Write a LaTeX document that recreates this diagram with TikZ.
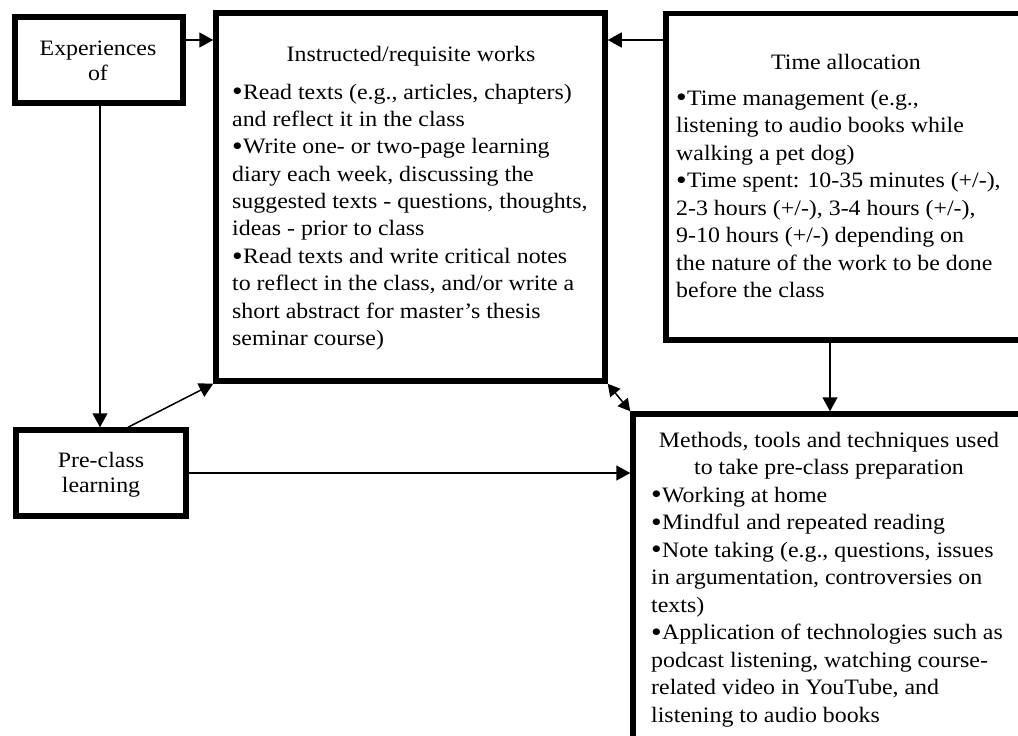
\documentclass[tikz,border=0pt]{standalone}
\usepackage{fontspec}
\setmainfont[FakeStretch=1.085]{Liberation Serif}
\usetikzlibrary{arrows.meta}
\newcommand\Llines[2]{\vtop{\baselineskip=#1\lineskiplimit=-30pt\lineskip=0pt\halign{##\hfil\cr#2\crcr}}}
\newcommand\Clines[2]{\vtop{\baselineskip=#1\lineskiplimit=-30pt\lineskip=0pt\halign{\hfil##\hfil\cr#2\crcr}}}
\newcommand\bul{\raisebox{-1.6pt}{\fontsize{28}{28}\selectfont•}\kern0.01em}
\begin{document}
\begin{tikzpicture}[x=1pt,y=-1pt,
  box/.style={draw, line width=5.5pt, inner sep=0pt},
  txt/.style={inner sep=0pt, font=\fontsize{22}{27.4}\selectfont},
  arr/.style={line width=1.5pt, -{Triangle[length=14pt,width=15pt]}},
  darr/.style={line width=1.5pt, {Triangle[length=12pt,width=13pt]}-{Triangle[length=12pt,width=13pt]}}]
\useasboundingbox (0,0) rectangle (1018,736);
\clip (0,0) rectangle (1018,736);
\fill[white] (0,0) rectangle (1018,736);
% boxes
\node[box, minimum width=168pt, minimum height=86pt] (exp) at (99,60) {};
\node[box, minimum width=389pt, minimum height=368pt] (instr) at (410.5,197) {};
\node[box, minimum width=374pt, minimum height=326.5pt] (time) at (853,176.75) {};
\node[box, minimum width=407pt, minimum height=346pt] (meth) at (836.5,587) {};
\node[box, minimum width=170pt, minimum height=86pt] (pre) at (101,473) {};
% texts
\node[txt, anchor=base] (expT) at (98,55) {\Clines{25pt}{Experiences\cr of}};
\node[txt, anchor=base] (preT) at (101,467) {\Clines{25pt}{Pre-class\cr learning}};
\node[txt, anchor=base] (instrH) at (411,61) {Instructed/requisite works};
\node[txt, anchor=base west] (instrB) at (232,99) {\Llines{27.4pt}{%
\bul Read texts (e.g., articles, chapters)\cr
and reflect it in the class\cr
\bul Write one- or two-page learning\cr
diary each week, discussing the\cr
suggested texts - questions, thoughts,\cr
ideas - prior to class\cr
\bul Read texts and write critical notes\cr
to reflect in the class, and/or write a\cr
short abstract for master’s thesis\cr
seminar course)}};
\node[txt, anchor=base] (timeH) at (846,69) {Time allocation};
\node[txt, anchor=base west] (timeB) at (676,105) {\Llines{27.5pt}{%
\bul Time management (e.g.,\cr
listening to audio books while\cr
walking a pet dog)\cr
\bul Time spent: 10-35 minutes (+/-),\cr
2-3 hours (+/-), 3-4 hours (+/-),\cr
9-10 hours (+/-) depending on\cr
the nature of the work to be done\cr
before the class}};
\node[txt, anchor=base] (methH) at (829,447) {\Clines{27.5pt}{%
Methods, tools and techniques used\cr
to take pre-class preparation}};
\node[txt, anchor=base west] (methB) at (651,502) {\Llines{27.5pt}{%
\bul Working at home\cr
\bul Mindful and repeated reading\cr
\bul Note taking (e.g., questions, issues\cr
in argumentation, controversies on\cr
texts)\cr
\bul Application of technologies such as\cr
podcast listening, watching course-\cr
related video in YouTube, and\cr
listening to audio books}};
% connectors
\draw[arr] (exp.east |- 0,40) -- (instr.west |- 0,40);
\draw[arr] (time.west |- 0,40) -- (instr.east |- 0,40);
\draw[arr] (exp.south -| 100,0) -- (pre.north -| 100,0);
\draw[arr] (pre.north -| 128,0) -- (instr.south west);
\draw[arr] (pre.east) -- (meth.west |- pre.east);
\draw[arr] (time.south -| 830,0) -- (meth.north -| 830,0);
\draw[darr] (instr.south east) -- (meth.north west);
\end{tikzpicture}
\end{document}
